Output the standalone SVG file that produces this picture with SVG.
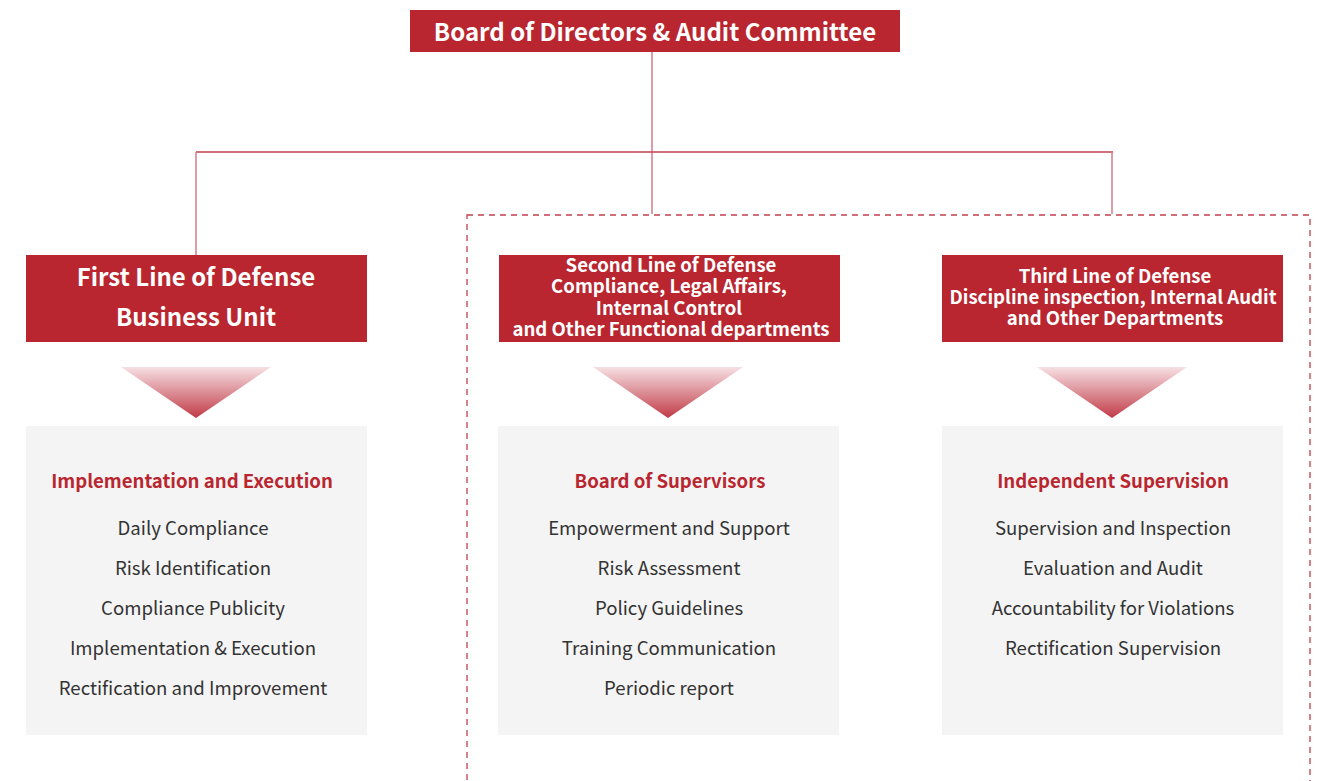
<svg xmlns="http://www.w3.org/2000/svg" width="1325" height="781" viewBox="0 0 1325 781">
<style>
.hd{fill:#b9262f}
.ht{fill:#fff;font-family:"Noto Sans CJK SC","Noto Sans",sans-serif;font-weight:700;text-anchor:middle}
.cb{fill:#f4f4f4}
.ct{fill:#b9262f;font-family:"Noto Sans CJK SC","Noto Sans",sans-serif;font-weight:700;font-size:18.6px;text-anchor:middle}
.it{fill:#333;font-family:"Noto Sans CJK SC","Noto Sans",sans-serif;font-size:18.6px;text-anchor:middle}
.ln{stroke:#d27c88;stroke-width:1.5;fill:none}
.hl{stroke:#c0404c;stroke-width:1.5;fill:none}
.dash{stroke:#c0404c;stroke-width:1.3;fill:none;stroke-dasharray:6,5}
</style>
<defs>
<linearGradient id="tg" x1="0" y1="0" x2="0" y2="1">
<stop offset="0" stop-color="#f6e0e3"/>
<stop offset="1" stop-color="#c13b47"/>
</linearGradient>
</defs>
<rect width="1325" height="781" fill="#fff"/>
<g id="connectors">
<rect class="dash" x="467" y="215" width="843" height="600"/>
<line class="ln" x1="652" y1="51" x2="652" y2="214"/>
<line class="hl" x1="196" y1="152" x2="1113" y2="152"/>
<line class="ln" x1="196" y1="152" x2="196" y2="255"/>
<line class="ln" x1="1112" y1="152" x2="1112" y2="214"/>
</g>
<g id="board">
<rect class="hd" x="410" y="10" width="490" height="42"/>
<text class="ht" x="655" y="41" font-size="24">Board of Directors &amp; Audit Committee</text>
</g>
<g id="first">
<rect class="hd" x="26" y="255" width="341" height="87"/>
<text class="ht" x="196" y="286" font-size="24">First Line of Defense</text>
<text class="ht" x="196" y="326" font-size="24">Business Unit</text>
</g>
<g id="second">
<rect class="hd" x="499" y="255" width="341" height="87"/>
<text class="ht" x="671" y="272" font-size="18.6">Second Line of Defense</text>
<text class="ht" x="669" y="293" font-size="18.6">Compliance, Legal Affairs,</text>
<text class="ht" x="669" y="315" font-size="18.6">Internal Control</text>
<text class="ht" x="671" y="336" font-size="18.6">and Other Functional departments</text>
</g>
<g id="third">
<rect class="hd" x="942" y="255" width="341" height="87"/>
<text class="ht" x="1115" y="283" font-size="18.6">Third Line of Defense</text>
<text class="ht" x="1113" y="304" font-size="18.6">Discipline inspection, Internal Audit</text>
<text class="ht" x="1115" y="325" font-size="18.6">and Other Departments</text>
</g>
<g id="arrow1"><polygon points="121,367 271,367 196,418" fill="url(#tg)"/></g>
<g id="arrow2"><polygon points="593,367 743,367 668,418" fill="url(#tg)"/></g>
<g id="arrow3"><polygon points="1037,367 1187,367 1112,418" fill="url(#tg)"/></g>
<g id="box1">
<rect class="cb" x="26" y="426" width="341" height="309"/>
<text class="ct" x="192" y="488">Implementation and Execution</text>
<text class="it" x="193" y="535">Daily Compliance</text>
<text class="it" x="193" y="575">Risk Identification</text>
<text class="it" x="193" y="615">Compliance Publicity</text>
<text class="it" x="193" y="655">Implementation &amp; Execution</text>
<text class="it" x="193" y="695">Rectification and Improvement</text>
</g>
<g id="box2">
<rect class="cb" x="498" y="426" width="341" height="309"/>
<text class="ct" x="670" y="488">Board of Supervisors</text>
<text class="it" x="669" y="535">Empowerment and Support</text>
<text class="it" x="669" y="575">Risk Assessment</text>
<text class="it" x="669" y="615">Policy Guidelines</text>
<text class="it" x="669" y="655">Training Communication</text>
<text class="it" x="669" y="695">Periodic report</text>
</g>
<g id="box3">
<rect class="cb" x="942" y="426" width="341" height="309"/>
<text class="ct" x="1113" y="488">Independent Supervision</text>
<text class="it" x="1113" y="535">Supervision and Inspection</text>
<text class="it" x="1113" y="575">Evaluation and Audit</text>
<text class="it" x="1113" y="615">Accountability for Violations</text>
<text class="it" x="1113" y="655">Rectification Supervision</text>
</g>
</svg>
